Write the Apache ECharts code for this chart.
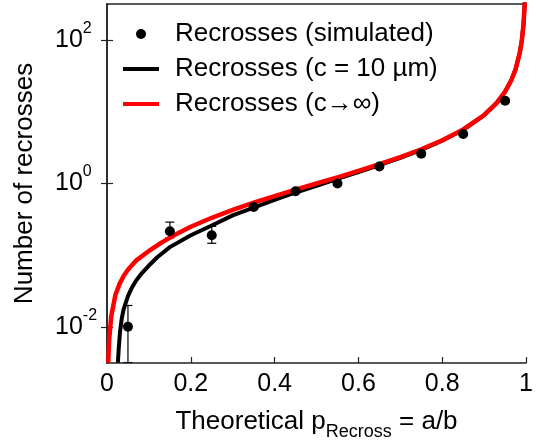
<!DOCTYPE html>
<html><head><meta charset="utf-8">
<script src="https://cdn.jsdelivr.net/npm/echarts@6/dist/echarts.min.js"></script>
<style>html,body{margin:0;padding:0;background:#fff}#c{width:536px;height:446px}</style>
</head><body><div id="c"></div>
<script>
// Simulated recrosses (points with error bars)
const pointX = [0.05, 0.15, 0.25, 0.35, 0.45, 0.55, 0.65, 0.75, 0.85, 0.95];
const pointY = [0.0101, 0.216, 0.19, 0.47, 0.78, 1.0, 1.72, 2.59, 4.9, 14.2];
const errLow = [0.0032, 0.175, 0.147, 0.44, 0.74, 0.96, 1.66, 2.5, 4.7, 13.6];
const errHigh = [0.020, 0.29, 0.253, 0.51, 0.83, 1.04, 1.78, 2.68, 5.1, 14.8];
// Recrosses (c -> infinity), red curve
const redX = [0.003, 0.005, 0.01, 0.02, 0.03, 0.04, 0.05, 0.07, 0.1, 0.13, 0.16, 0.2, 0.25, 0.3, 0.35, 0.4, 0.45, 0.5, 0.55, 0.6, 0.65, 0.7, 0.75, 0.8, 0.85, 0.9, 0.93, 0.95, 0.965, 0.975, 0.985, 0.99, 0.994, 0.997];
const redY = [0.0032, 0.0065, 0.014, 0.028, 0.040, 0.052, 0.063, 0.085, 0.115, 0.15, 0.19, 0.25, 0.333, 0.43, 0.54, 0.667, 0.82, 1.0, 1.22, 1.5, 1.86, 2.33, 3.0, 4.0, 5.67, 9.0, 13.3, 19, 27.6, 39, 66, 99, 166, 332];
// Recrosses (c = 10 um), black curve
const blackX = [0.026, 0.028, 0.031, 0.035, 0.04, 0.05, 0.06, 0.07, 0.085, 0.1, 0.12, 0.15, 0.2, 0.25, 0.3, 0.35, 0.4, 0.45, 0.5, 0.55, 0.6, 0.65, 0.7, 0.75, 0.8, 0.85, 0.9, 0.93, 0.95, 0.965, 0.975, 0.985, 0.99, 0.994, 0.997];
const blackY = [0.0032, 0.005, 0.0085, 0.013, 0.018, 0.027, 0.036, 0.045, 0.058, 0.072, 0.094, 0.13, 0.19, 0.26, 0.36, 0.46, 0.59, 0.75, 0.93, 1.16, 1.44, 1.8, 2.27, 2.94, 3.94, 5.6, 8.9, 13.2, 18.9, 27.5, 39, 66, 99, 166, 332];
const yTickValues = [0.01, 1, 100];
const seriesNames = ['Recrosses (simulated)', 'Recrosses (c = 10 \u00b5m)', 'Recrosses (c\u2192\u221e)'];

const FONT = "'Liberation Sans', Arial, sans-serif";
const zip = (xs, ys) => xs.map((x, i) => [x, ys[i]]);
const yMin = Math.pow(10, -2.5), yMax = Math.pow(10, 2.5);
const axisLine = {show: true, lineStyle: {color: '#222', width: 1.5}};
const LINE_ICON = 'path://M0,0h36v4h-36z';

const chart = echarts.init(document.getElementById('c'), null, {renderer: 'canvas'});
chart.setOption({
  animation: false,
  backgroundColor: '#fff',
  textStyle: {fontFamily: FONT},
  grid: {left: 107, right: 6, top: 4, bottom: 83, containLabel: false},
  legend: {
    orient: 'vertical', left: 123, top: 19, padding: 0,
    itemWidth: 36, itemHeight: 10, itemGap: 5,
    textStyle: {fontFamily: FONT, fontSize: 26, color: '#000', lineHeight: 30,
      rich: {a: {fontFamily: FONT, fontSize: 26, color: '#000', lineHeight: 30, padding: [0, 0, 0, 11]}}},
    formatter: n => '{a|' + n + '}',
    data: [
      {name: seriesNames[0], icon: 'circle', itemStyle: {color: '#000', opacity: 1}},
      {name: seriesNames[1], icon: LINE_ICON, itemStyle: {color: '#000'}},
      {name: seriesNames[2], icon: LINE_ICON, itemStyle: {color: '#ff0000'}}
    ],
    selectedMode: false
  },
  xAxis: [{
    type: 'value', min: 0, max: 1, interval: 0.2,
    axisLine: axisLine,
    axisTick: {show: true, inside: true, length: 6, lineStyle: {color: '#222', width: 1.2}},
    splitLine: {show: false},
    axisLabel: {fontSize: 25, color: '#000', margin: 9, fontFamily: FONT,
      formatter: v => String(+v.toFixed(1))},
    name: 'Theoretical p{sub|Recross} = a/b', nameLocation: 'middle', nameGap: 39,
    nameTextStyle: {fontSize: 26, color: '#000', fontFamily: FONT,
      rich: {sub: {fontSize: 18, fontFamily: FONT, color: '#000', padding: [21, 0, 0, 0], verticalAlign: 'middle'}}}
  }, {
    type: 'value', min: 0, max: 1, position: 'top',
    axisLine: axisLine, axisTick: {show: false}, axisLabel: {show: false}, splitLine: {show: false}
  }],
  yAxis: [{
    type: 'log', min: yMin, max: yMax, logBase: 10,
    axisLine: axisLine,
    axisTick: {show: true, inside: true, length: 6, customValues: yTickValues, lineStyle: {color: '#222', width: 1.2}},
    minorTick: {show: false},
    splitLine: {show: false},
    axisLabel: {
      customValues: yTickValues, align: 'left', margin: 52,
      formatter: v => '{b|10}{e|' + Math.round(Math.log10(v)) + '}',
      rich: {
        b: {fontSize: 25, fontFamily: FONT, color: '#000', verticalAlign: 'middle'},
        e: {fontSize: 16, fontFamily: FONT, color: '#000', verticalAlign: 'middle', padding: [0, 0, 23, 0]}
      }
    },
    name: 'Number of recrosses', nameLocation: 'middle', nameGap: 69,
    nameTextStyle: {fontSize: 26, color: '#000', fontFamily: FONT}
  }, {
    type: 'log', min: yMin, max: yMax, logBase: 10, position: 'right',
    axisLine: axisLine,
    axisTick: {show: true, inside: true, length: 6, customValues: yTickValues, lineStyle: {color: '#222', width: 1.2}},
    axisLabel: {show: false}, splitLine: {show: false}
  }],
  series: [
    {
      name: 'errbars', type: 'custom', xAxisIndex: 0, yAxisIndex: 0, clip: true, z: 3,
      data: pointX.map((x, i) => [x, errLow[i], errHigh[i]]),
      renderItem: (params, api) => {
        const lo = api.coord([api.value(0), api.value(1)]);
        const hi = api.coord([api.value(0), api.value(2)]);
        const w = 4.5;
        return {type: 'group', children: [
          {type: 'line', shape: {x1: lo[0], y1: lo[1], x2: hi[0], y2: hi[1]}, style: {stroke: '#000', lineWidth: 1.2}},
          {type: 'line', shape: {x1: lo[0] - w, y1: lo[1], x2: lo[0] + w, y2: lo[1]}, style: {stroke: '#000', lineWidth: 1.2}},
          {type: 'line', shape: {x1: hi[0] - w, y1: hi[1], x2: hi[0] + w, y2: hi[1]}, style: {stroke: '#000', lineWidth: 1.2}}
        ]};
      }
    },
    {
      name: seriesNames[1], type: 'line', data: zip(blackX, blackY), symbol: 'none', showSymbol: false,
      lineStyle: {color: '#000', width: 4}, itemStyle: {color: '#000'}, z: 2, clip: true
    },
    {
      name: seriesNames[2], type: 'line', data: zip(redX, redY), symbol: 'none', showSymbol: false,
      lineStyle: {color: '#ff0000', width: 4.5}, itemStyle: {color: '#ff0000'}, z: 4, clip: true
    },
    {
      name: seriesNames[0], type: 'scatter', data: zip(pointX, pointY), symbol: 'circle', symbolSize: 10,
      itemStyle: {color: '#000', opacity: 1}, z: 5
    }
  ]
});
</script></body></html>
